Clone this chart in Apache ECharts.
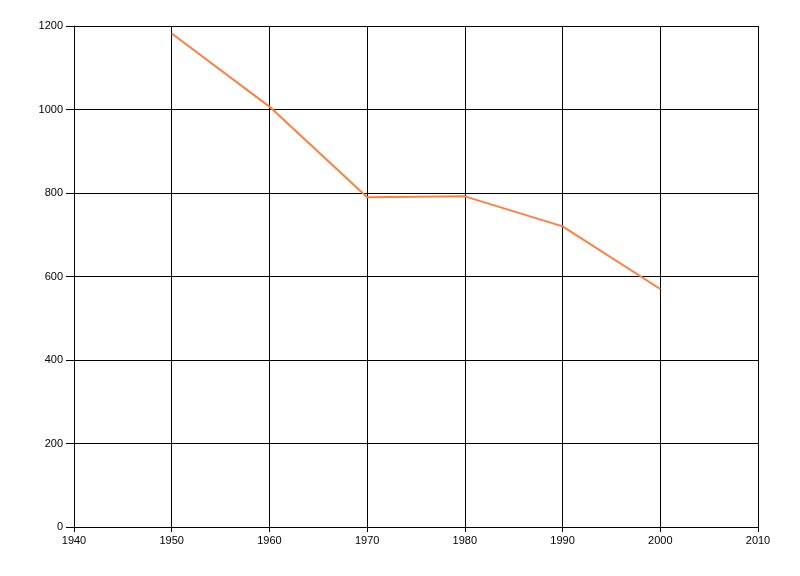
<!DOCTYPE html>
<html>
<head>
<meta charset="utf-8">
<script src="https://cdn.jsdelivr.net/npm/echarts@6/dist/echarts.min.js"></script>
<style>html,body{margin:0;padding:0;background:#fff}#c{width:800px;height:576px}</style>
</head>
<body>
<div id="c"></div>
<script>
var years = [1950, 1960, 1970, 1980, 1990, 2000];
var values = [1182, 1007, 790, 792, 720, 570];
var chart = echarts.init(document.getElementById('c'), null, {renderer: 'canvas'});
var font = '"Liberation Sans", Arial, sans-serif';
function plain(v) { return String(v); }
chart.setOption({
  animation: false,
  backgroundColor: '#ffffff',
  grid: {left: 74, right: 42, top: 26, bottom: 49, containLabel: false},
  xAxis: {
    type: 'value', min: 1940, max: 2010, interval: 10,
    axisLine: {show: true, lineStyle: {color: '#000', width: 1}},
    axisTick: {show: true, length: 5, lineStyle: {color: '#000'}},
    axisLabel: {color: '#000', fontSize: 11, fontFamily: font, margin: 8, formatter: plain},
    splitLine: {show: true, lineStyle: {color: '#000', width: 1}}
  },
  yAxis: {
    type: 'value', min: 0, max: 1200, interval: 200,
    axisLine: {show: true, lineStyle: {color: '#000', width: 1}},
    axisTick: {show: true, length: 8, lineStyle: {color: '#000'}},
    axisLabel: {color: '#000', fontSize: 11, fontFamily: font, margin: 11, formatter: plain},
    splitLine: {show: true, lineStyle: {color: '#000', width: 1}}
  },
  series: [{
    type: 'line',
    data: years.map(function (y, i) { return [y, values[i]]; }),
    showSymbol: false,
    lineStyle: {color: '#FF7F3F', width: 2},
    itemStyle: {color: '#FF7F3F'}
  }]
});
</script>
</body>
</html>
